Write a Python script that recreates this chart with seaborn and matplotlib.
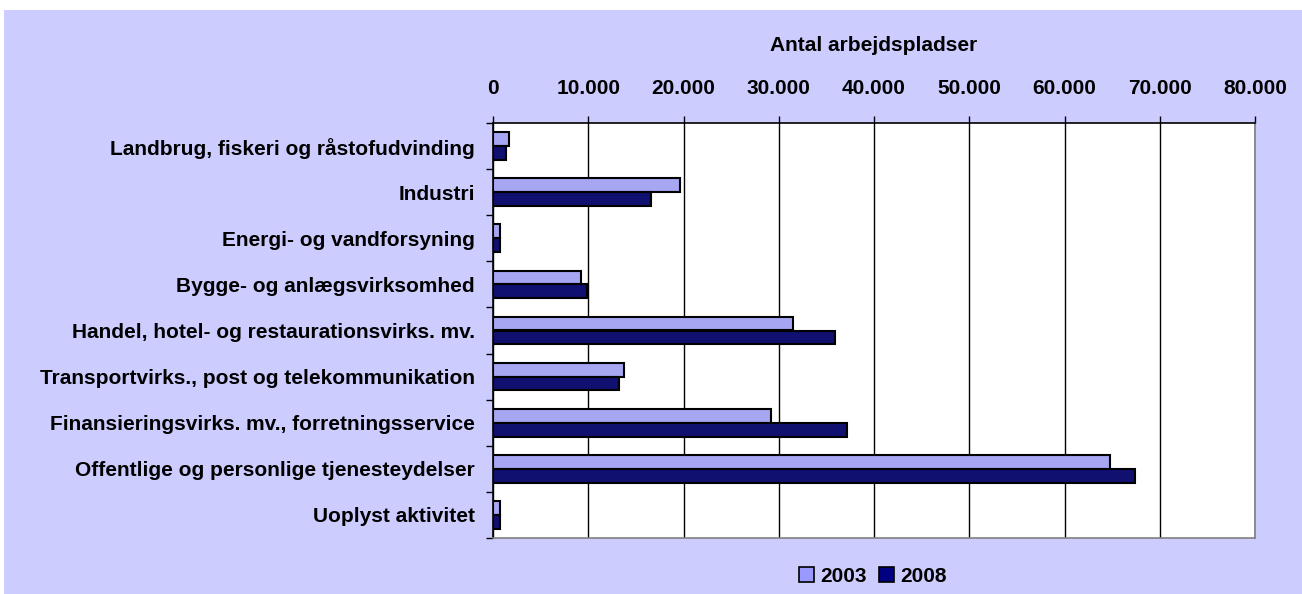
import matplotlib
matplotlib.use("Agg")
import matplotlib.pyplot as plt
import matplotlib.patches as mpatches
from matplotlib.ticker import FuncFormatter, MultipleLocator, FixedLocator
import seaborn as sns
import pandas as pd

categories = [
    "Landbrug, fiskeri og råstofudvinding",
    "Industri",
    "Energi- og vandforsyning",
    "Bygge- og anlægsvirksomhed",
    "Handel, hotel- og restaurationsvirks. mv.",
    "Transportvirks., post og telekommunikation",
    "Finansieringsvirks. mv., forretningsservice",
    "Offentlige og personlige tjenesteydelser",
    "Uoplyst aktivitet",
]
years = ["2003", "2008"]
values_2003 = [1710, 19650, 730, 9230, 31540, 13780, 29200, 64800, 780]
values_2008 = [1360, 16640, 770, 9860, 35910, 13250, 37150, 67450, 780]
xlabel = "Antal arbejdspladser"

df = pd.DataFrame({
    "Kategori": categories * 2,
    "År": [years[0]] * len(categories) + [years[1]] * len(categories),
    "Antal": values_2003 + values_2008,
})

sns.set_theme(style="white")
plt.rcParams["font.family"] = ["Liberation Sans", "DejaVu Sans"]
plt.rcParams["font.weight"] = "bold"
plt.rcParams["text.color"] = "black"
plt.rcParams["xtick.color"] = "black"
plt.rcParams["ytick.color"] = "black"
plt.rcParams["axes.labelcolor"] = "black"

FS = 15
colors = {"2003": "#9999FF", "2008": "#000080"}
BG = "#CCCCFF"

fig = plt.figure(figsize=(13.02, 5.94), dpi=100, facecolor="white")
fig.patches.append(mpatches.Rectangle((4 / 1302, 0), 1, 1 - 10 / 594,
                                      transform=fig.transFigure,
                                      facecolor=BG, edgecolor="none", zorder=-10))
ax = fig.add_axes([493 / 1302, 1 - 538 / 594, (1255 - 493) / 1302, (538 - 123) / 594])
ax.set_facecolor("white")

sns.barplot(data=df, y="Kategori", x="Antal", hue="År", orient="h",
            palette=colors, width=0.6, edgecolor="black", linewidth=1.5,
            ax=ax, legend=False, zorder=3)

ax.set_xlim(0, 80000)
ax.set_ylim(len(categories) - 0.5, -0.5)
ax.xaxis.set_major_locator(MultipleLocator(10000))
ax.xaxis.set_major_formatter(FuncFormatter(lambda v, p: f"{int(v):,}".replace(",", ".")))
ax.xaxis.tick_top()
ax.xaxis.set_label_position("top")
ax.set_xlabel(xlabel, fontsize=FS, fontweight="bold", labelpad=20)
ax.set_ylabel("")
ax.grid(axis="x", color="black", linewidth=1.0, zorder=0)
ax.set_axisbelow(True)

ax.tick_params(axis="x", which="major", direction="out", length=5, width=1,
               color="black", labelsize=FS, labelcolor="black", pad=13, top=True, bottom=False)
for lbl in ax.get_xticklabels():
    lbl.set_fontweight("bold")

ax.yaxis.set_minor_locator(FixedLocator([i - 0.5 for i in range(len(categories) + 1)]))
ax.tick_params(axis="y", which="major", length=0, labelsize=FS, labelcolor="black", pad=13)
ax.tick_params(axis="y", which="minor", direction="out", length=5, width=1,
               color="black", left=True)
for lbl in ax.get_yticklabels():
    lbl.set_fontweight("bold")

for side in ["left", "top"]:
    ax.spines[side].set_color("black")
    ax.spines[side].set_linewidth(1.2)
for side in ["right", "bottom"]:
    ax.spines[side].set_color("#808080")
    ax.spines[side].set_linewidth(1.2)

handles = [mpatches.Patch(facecolor=colors[y], edgecolor="black", linewidth=1.2, label=y)
           for y in years]
fig.legend(handles=handles, loc="center", bbox_to_anchor=(873 / 1302, 1 - 576 / 594),
           ncol=2, frameon=False, handlelength=0.7, handleheight=0.7,
           handletextpad=0.3, columnspacing=0.6, prop={"weight": "bold", "size": 15})

fig.savefig("out.png", dpi=100, facecolor=fig.get_facecolor())
